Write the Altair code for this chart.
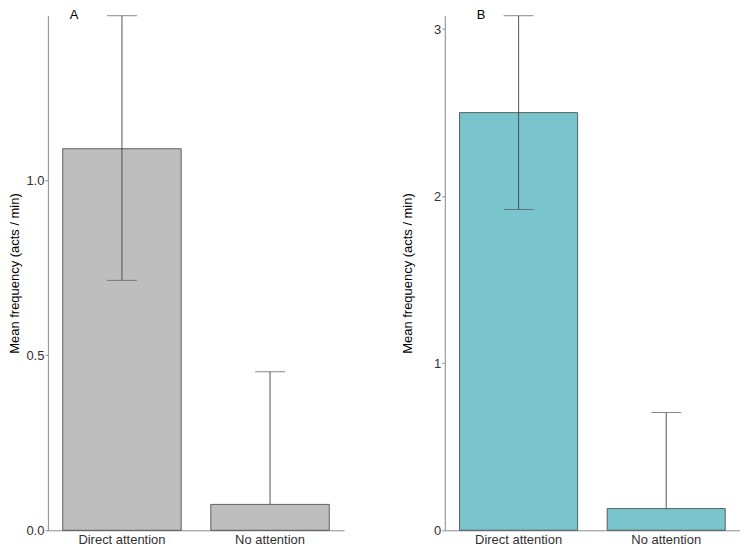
import altair as alt
import pandas as pd

categories = ["Direct attention", "No attention"]

# Panel A
mean_a = [1.09, 0.074]
low_a = [0.714, 0.074]
high_a = [1.47, 0.453]

# Panel B
mean_b = [2.50, 0.13]
low_b = [1.92, 0.13]
high_b = [3.08, 0.705]

y_title = "Mean frequency (acts / min)"
FONT = "Liberation Sans"
H = 516


def panel(label, means, lows, highs, ymax, ticks, fmt, fill, title_pad, width, title_dx):
    df = pd.DataFrame({"cat": categories, "mean": means, "low": lows, "high": highs})
    x = alt.X(
        "cat:N",
        sort=categories,
        scale=alt.Scale(paddingInner=0.2, paddingOuter=0.1),
        axis=alt.Axis(
            title=None, labelAngle=0, ticks=False, labelPadding=3,
            labelFontSize=13, labelColor="#303030", labelFont=FONT,
            domainColor="#8a8a8a", domainWidth=1,
        ),
    )
    yscale = alt.Scale(domain=[0, ymax], nice=False, zero=True)
    yaxis = alt.Axis(
        title=y_title, titleFontSize=13, titleFontWeight="normal", titleColor="#000000",
        titleFont=FONT, titlePadding=title_pad,
        values=ticks, format=fmt, labelFontSize=13, labelColor="#303030", labelFont=FONT,
        labelPadding=1, tickSize=3, tickColor="#8a8a8a", domainColor="#8a8a8a",
        domainWidth=1, grid=False,
    )
    base = alt.Chart(df)
    bars = base.mark_bar(fill=fill, stroke="#404040", strokeWidth=0.8).encode(
        x=x, y=alt.Y("mean:Q", scale=yscale, axis=yaxis)
    )
    err = base.mark_rule(color="#404040", strokeWidth=0.9).encode(
        x=x, y=alt.Y("low:Q", scale=yscale), y2="high:Q"
    )
    cap_hi = base.mark_tick(color="#555555", size=30, thickness=1, orient="horizontal").encode(
        x=x, y=alt.Y("high:Q", scale=yscale)
    )
    cap_lo = base.transform_filter("datum.low < datum.mean").mark_tick(
        color="#555555", size=30, thickness=1, orient="horizontal"
    ).encode(x=x, y=alt.Y("low:Q", scale=yscale))
    return alt.layer(bars, err, cap_hi, cap_lo).properties(
        width=width, height=H,
        title=alt.TitleParams(
            label, anchor="start", frame="group", dx=title_dx, dy=9, offset=2,
            fontSize=13, fontWeight="normal", font=FONT, color="#000000",
        ),
    )


pa = panel("A", mean_a, low_a, high_a, 1.47, [0, 0.5, 1.0], ".1f", "#bebebe", 4, 297, 22)
pb = panel("B", mean_b, low_b, high_b, 3.08, [0, 1, 2, 3], "d", "#7ac5cd", 19, 296, 32)

chart = (
    alt.hconcat(pa, pb, spacing=57)
    .properties(padding=0, background="#ffffff")
    .configure_view(stroke=None)
)

chart.save("out.html", embed_options={"renderer": "svg", "actions": False})
